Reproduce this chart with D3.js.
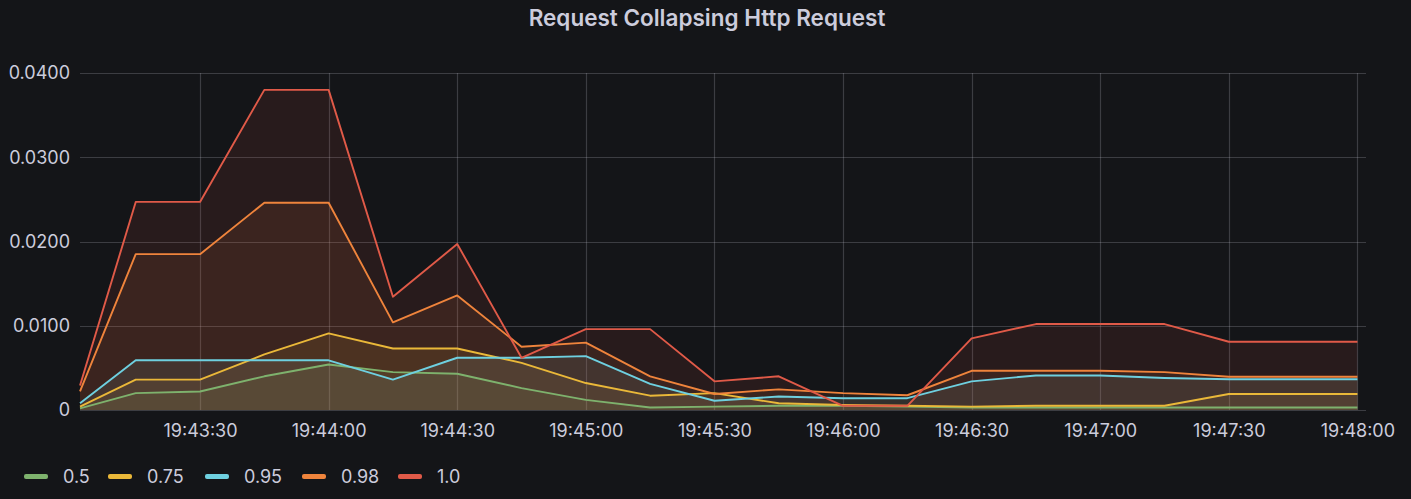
<!DOCTYPE html>
<html>
<head>
<meta charset="utf-8">
<script src="https://cdn.jsdelivr.net/npm/d3@7"></script>
<style>
  html, body { margin: 0; padding: 0; background: #141518; }
  svg { display: block; font-family: Inter, "Noto Sans", sans-serif; }
</style>
</head>
<body>
<div id="chart"></div>
<script>
(function() {
  // time stamps (first one is the left edge of the 5 minute range)
  var times = ['19:43:02', '19:43:15', '19:43:30', '19:43:45', '19:44:00', '19:44:15', '19:44:30',
    '19:44:45', '19:45:00', '19:45:15', '19:45:30', '19:45:45', '19:46:00', '19:46:15', '19:46:30',
    '19:46:45', '19:47:00', '19:47:15', '19:47:30', '19:47:45', '19:48:00'];

  var p50 = [0.0002, 0.0020, 0.0022, 0.0040, 0.0054, 0.0045, 0.0043, 0.0026, 0.0012, 0.0003, 0.0004,
    0.0005, 0.0005, 0.0004, 0.0003, 0.0003, 0.0003, 0.0003, 0.0003, 0.0003, 0.0003];
  var p75 = [0.0004, 0.0036, 0.0036, 0.0066, 0.0091, 0.0073, 0.0073, 0.0056, 0.0032, 0.0017, 0.0020,
    0.0008, 0.0006, 0.0005, 0.0004, 0.0005, 0.0005, 0.0005, 0.0019, 0.0019, 0.0019];
  var p95 = [0.0008, 0.0059, 0.0059, 0.0059, 0.0059, 0.0036, 0.0062, 0.0062, 0.0064, 0.0031, 0.0011,
    0.0016, 0.0014, 0.0014, 0.0034, 0.0041, 0.0041, 0.0038, 0.00365, 0.00365, 0.00365];
  var p98 = [0.0022, 0.0185, 0.0185, 0.0246, 0.0246, 0.0104, 0.0136, 0.0075, 0.0080, 0.0040, 0.0019,
    0.00245, 0.0020, 0.00175, 0.00465, 0.00465, 0.00465, 0.0045, 0.00395, 0.00395, 0.00395];
  var p100 = [0.0029, 0.0247, 0.0247, 0.0380, 0.0380, 0.01345, 0.0197, 0.0062, 0.0096, 0.0096, 0.0034,
    0.0040, 0.0005, 0.0005, 0.0085, 0.0102, 0.0102, 0.0102, 0.0081, 0.0081, 0.0081];

  var seriesNames = ['0.5', '0.75', '0.95', '0.98', '1.0'];
  var seriesColors = ['#7EB26D', '#EAB839', '#6ED0E0', '#EF843C', '#E05A48'];
  var seriesValues = [p50, p75, p95, p98, p100];
  var yTicks = [0, 0.01, 0.02, 0.03, 0.04];
  var xTicks = ['19:43:30', '19:44:00', '19:44:30', '19:45:00', '19:45:30', '19:46:00',
    '19:46:30', '19:47:00', '19:47:30', '19:48:00'];

  var width = 1411, height = 499;
  var plot = { left: 80, right: 1366, top: 73, bottom: 410 };
  var parse = d3.timeParse('%H:%M:%S');
  var fmt = d3.timeFormat('%H:%M:%S');
  var textColor = '#ccccdc';

  var svg = d3.select('#chart').append('svg')
    .attr('width', width)
    .attr('height', height);

  var x = d3.scaleTime()
    .domain([parse('19:43:02'), parse('19:48:02')])
    .range([plot.left, plot.right]);
  var y = d3.scaleLinear()
    .domain([0, 0.04])
    .range([plot.bottom, plot.top]);

  // title
  svg.append('text')
    .attr('x', 707)
    .attr('y', 26)
    .attr('text-anchor', 'middle')
    .attr('fill', textColor)
    .attr('font-size', 22.5)
    .attr('font-weight', 600)
    .text('Request Collapsing Http Request');

  // grid
  var grid = svg.append('g').attr('class', 'grid');
  grid.selectAll('line.h').data(yTicks).enter().append('line')
    .attr('class', 'h')
    .attr('x1', plot.left).attr('x2', plot.right)
    .attr('y1', function(d) { return Math.round(y(d)) + 0.5; })
    .attr('y2', function(d) { return Math.round(y(d)) + 0.5; })
    .attr('stroke', 'rgba(204,204,220,0.22)')
    .attr('stroke-width', 1.2);
  grid.selectAll('line.v').data(xTicks.map(parse)).enter().append('line')
    .attr('class', 'v')
    .attr('x1', function(d) { return Math.round(x(d)) + 0.5; })
    .attr('x2', function(d) { return Math.round(x(d)) + 0.5; })
    .attr('y1', plot.top).attr('y2', plot.bottom)
    .attr('stroke', 'rgba(204,204,220,0.22)')
    .attr('stroke-width', 1.2);

  // y axis labels
  var yAxis = d3.axisLeft(y)
    .tickValues(yTicks)
    .tickSize(0)
    .tickPadding(0)
    .tickFormat(function(d) { return d === 0 ? '0' : d3.format('.4f')(d); });
  var gy = svg.append('g')
    .attr('transform', 'translate(70,0)')
    .call(yAxis);
  gy.select('.domain').remove();
  gy.selectAll('text')
    .attr('fill', textColor)
    .attr('font-size', 18)
    .attr('font-family', 'Inter, "Noto Sans", sans-serif');

  // x axis labels
  var xAxis = d3.axisBottom(x)
    .tickValues(xTicks.map(parse))
    .tickSize(0)
    .tickPadding(0)
    .tickFormat(fmt);
  var gx = svg.append('g')
    .attr('transform', 'translate(0,' + (plot.bottom + 14) + ')')
    .call(xAxis);
  gx.select('.domain').remove();
  gx.selectAll('text')
    .attr('fill', textColor)
    .attr('font-size', 18)
    .attr('font-family', 'Inter, "Noto Sans", sans-serif');

  // series
  var dates = times.map(parse);
  var area = d3.area()
    .x(function(d, i) { return x(dates[i]); })
    .y0(y(0))
    .y1(function(d) { return y(d); });
  var line = d3.line()
    .x(function(d, i) { return x(dates[i]); })
    .y(function(d) { return y(d); });

  var gs = svg.append('g').attr('class', 'series');
  seriesValues.forEach(function(vals, i) {
    gs.append('path')
      .attr('d', area(vals))
      .attr('fill', seriesColors[i])
      .attr('fill-opacity', 0.1);
  });
  seriesValues.forEach(function(vals, i) {
    gs.append('path')
      .attr('d', line(vals))
      .attr('fill', 'none')
      .attr('stroke', seriesColors[i])
      .attr('stroke-width', 1.9)
      .attr('stroke-linejoin', 'round');
  });

  // legend
  var legendX = [24, 108, 205, 302, 398];
  var lg = svg.append('g').attr('class', 'legend');
  seriesNames.forEach(function(name, i) {
    lg.append('rect')
      .attr('x', legendX[i])
      .attr('y', 474)
      .attr('width', 24)
      .attr('height', 5)
      .attr('rx', 2)
      .attr('fill', seriesColors[i]);
    lg.append('text')
      .attr('x', legendX[i] + 39)
      .attr('y', 483)
      .attr('fill', textColor)
      .attr('font-size', 18)
      .text(name);
  });
})();
</script>
</body>
</html>
